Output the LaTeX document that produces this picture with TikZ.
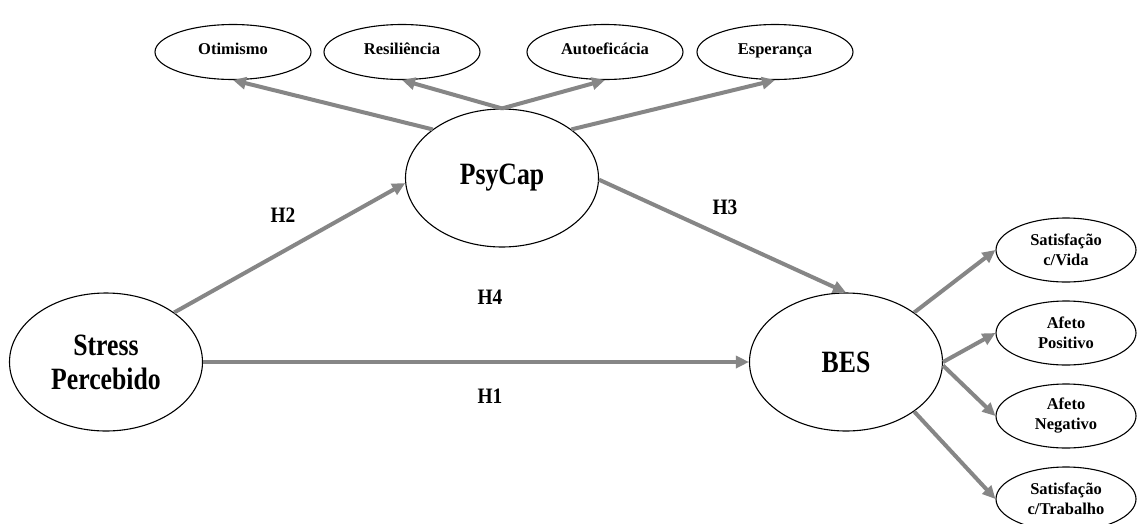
\documentclass[tikz,border=0pt]{standalone}
\usepackage{fontspec}
\setmainfont{Liberation Serif}
\newfontfamily\condfont[FakeStretch=0.83]{Liberation Serif}
\newfontfamily\midfont[FakeStretch=0.88]{Liberation Serif}
\usetikzlibrary{shapes.geometric,arrows.meta}
\definecolor{arrgray}{HTML}{868686}
\tikzset{
  big/.style={ellipse,draw=black,line width=1.1pt,inner sep=0pt,minimum width=193pt,minimum height=138pt,
    font=\condfont\bfseries\fontsize{31}{34}\selectfont,align=center},
  small/.style={ellipse,draw=black,line width=1.1pt,inner sep=0pt,minimum width=156pt,minimum height=55pt,
    font=\bfseries\fontsize{16.5}{20}\selectfont,text height=0.7em,text depth=0.22em},
  right/.style={ellipse,draw=black,line width=1.1pt,inner sep=0pt,minimum width=140pt,minimum height=64pt,
    font=\bfseries\fontsize{16.5}{20}\selectfont,align=center},
  hyp/.style={font=\midfont\bfseries\fontsize{22}{24}\selectfont,inner sep=0pt},
  link/.style={draw=arrgray,line width=4pt,-{Triangle[length=13pt,width=12pt]}}
}
\begin{document}
\begin{tikzpicture}[x=1pt,y=-1pt]
\clip (0,0) rectangle (1138,523);
\fill[white] (0,0) rectangle (1138,523);
% top indicators
\node[small] (otim) at (233,52) {Otimismo};
\node[small] (resil) at (402,52) {Resiliência};
\node[small] (auto) at (605,52) {Autoeficácia};
\node[small] (esper) at (775,52) {Esperança};
% latent variables
\node[big] (psy) at (502,178) {PsyCap};
\node[big] (stress) at (106,362) {Stress\\Percebido};
\node[big] (bes) at (846,362) {BES};
% right indicators
\node[right] (sv) at (1066,250) {Satisfação\\c/Vida};
\node[right] (ap) at (1066,333) {Afeto\\Positivo};
\node[right] (an) at (1066,416) {Afeto\\Negativo};
\node[right] (st) at (1066,499) {Satisfação\\c/Trabalho};
% arrows
\draw[link] (psy.145) -- (otim.south);
\draw[link] (psy.north) -- (resil.south);
\draw[link] (psy.north) -- (auto.south);
\draw[link] (psy.35) -- (esper.south);
\draw[link] (stress.36) -- (psy.183);
\draw[link] (psy.-1) -- (bes.north);
\draw[link] (stress.east) -- (bes.west);
\draw[link] (bes.36) -- (sv.west);
\draw[link] (bes.east) -- (ap.west);
\draw[link] (bes.-2) -- (an.west);
\draw[link] (bes.-36) -- (st.west);
% hypothesis labels
\node[hyp] (h2) at (283,215) {H2};
\node[hyp] (h3) at (725,207) {H3};
\node[hyp] (h4) at (490,297) {H4};
\node[hyp] (h1) at (490,396) {H1};
\end{tikzpicture}
\end{document}
